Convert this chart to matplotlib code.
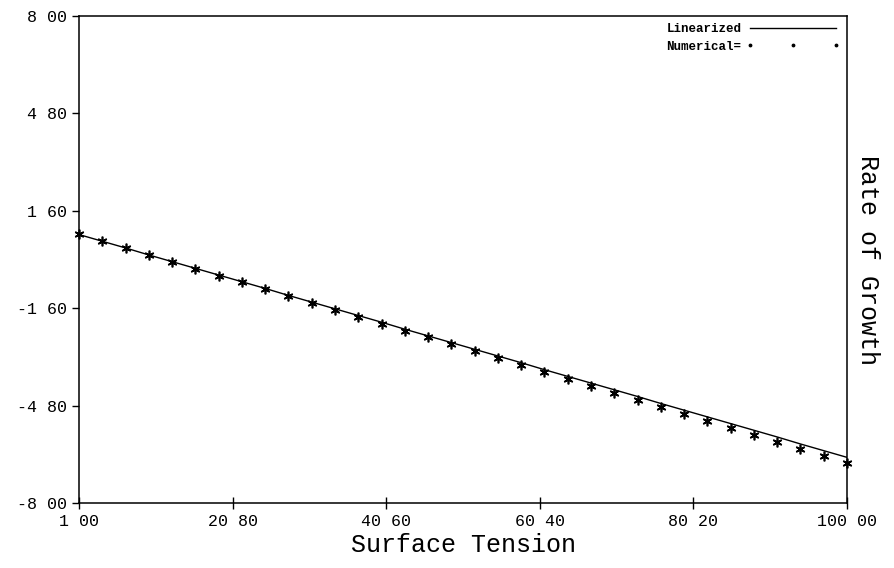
import matplotlib
matplotlib.use("Agg")
import matplotlib.pyplot as plt
from matplotlib.lines import Line2D

# ---- data ----
surface_tension = [1, 4, 7, 10, 13, 16, 19, 22, 25, 28, 31, 34, 37, 40, 43, 46, 49,
                   52, 55, 58, 61, 64, 67, 70, 73, 76, 79, 82, 85, 88, 91, 94, 97, 100]
linearized = [0.82, 0.60, 0.38, 0.15, -0.07, -0.29, -0.51, -0.73, -0.95, -1.18,
              -1.40, -1.62, -1.84, -2.06, -2.29, -2.51, -2.73, -2.95, -3.17, -3.39,
              -3.62, -3.84, -4.06, -4.28, -4.50, -4.73, -4.95, -5.17, -5.39, -5.61,
              -5.83, -6.06, -6.28, -6.50]
numerical = [0.83, 0.60, 0.37, 0.14, -0.08, -0.31, -0.53, -0.75, -0.98, -1.21,
             -1.43, -1.66, -1.88, -2.11, -2.34, -2.56, -2.79, -3.02, -3.25, -3.47,
             -3.70, -3.93, -4.16, -4.38, -4.61, -4.84, -5.07, -5.30, -5.52, -5.75,
             -5.98, -6.21, -6.44, -6.68]
x_ticks = [1.0, 20.8, 40.6, 60.4, 80.2, 100.0]
x_tick_labels = ["1 00", "20 80", "40 60", "60 40", "80 20", "100 00"]
y_ticks = [-8.0, -4.8, -1.6, 1.6, 4.8, 8.0]
y_tick_labels = ["-8 00", "-4 80", "-1 60", "1 60", "4 80", "8 00"]

fig = plt.figure(figsize=(8.95, 5.68), dpi=100)
ax = fig.add_axes([0.0883, 0.1144, 0.8581, 0.8574])

ax.plot(surface_tension, linearized, color="black", lw=1.0)
ax.plot(surface_tension, numerical, ls="none", marker=(6, 2, 0), ms=7,
        mew=1.2, color="black", clip_on=False, zorder=3)

ax.set_xlim(1, 100)
ax.set_ylim(-8, 8)
ax.set_xticks(x_ticks)
ax.set_xticklabels(x_tick_labels, family="Liberation Mono", fontsize=12)
ax.set_yticks(y_ticks)
ax.set_yticklabels(y_tick_labels, family="Liberation Mono", fontsize=12)
ax.tick_params(axis="x", direction="inout", length=8, width=1, pad=4)
ax.tick_params(axis="y", direction="out", length=5, width=1, pad=4)
for s in ax.spines.values():
    s.set_linewidth(1.1)

ax.set_xlabel("Surface Tension", family="Liberation Mono", fontsize=18, labelpad=3)
ax.text(1.012, 0.5, "Rate of Growth", transform=ax.transAxes, rotation=-90,
        family="Liberation Mono", fontsize=18, ha="left", va="center")

handles = [Line2D([], [], color="black", lw=1.0),
           Line2D([], [], ls="none", marker=".", ms=3.5, color="black")]
ax.legend(handles, ["Linearized", "Numerical="], loc="upper right",
          markerfirst=False, numpoints=3, handlelength=7.5, frameon=False,
          prop={"family": "Liberation Mono", "size": 9, "weight": "bold"},
          borderaxespad=0.15, labelspacing=0.45, handletextpad=0.4)

fig.savefig("out.png", dpi=100)
